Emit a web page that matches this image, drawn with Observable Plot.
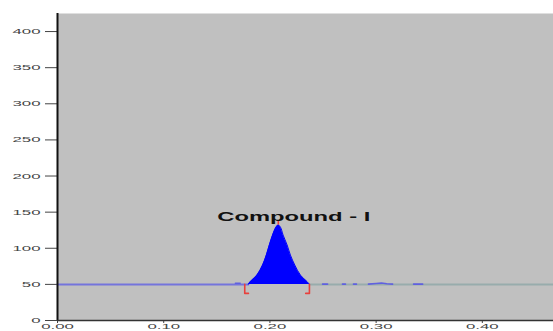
<!DOCTYPE html>
<html>
<head>
<meta charset="utf-8">
<script src="https://cdn.jsdelivr.net/npm/d3@7"></script>
<script src="https://cdn.jsdelivr.net/npm/@observablehq/plot@0.6"></script>
<style>
  html, body { margin: 0; padding: 0; background: #fff; }
  #chart { width: 553px; height: 331px; }
</style>
</head>
<body>
<div id="chart"></div>
<script>
// ---- data ----
const yTicks = [0, 50, 100, 150, 200, 250, 300, 350, 400];
const xTicks = [0.0, 0.1, 0.2, 0.3, 0.4];
const baselineLevel = 50;
const timeRange = [0, 0.467];
const signalRange = [0, 425];

// peak (retention time, signal)
const peakTime   = [0.1797, 0.1816, 0.1879, 0.1932, 0.1967, 0.1995, 0.2026, 0.2050, 0.2079, 0.2100, 0.2124, 0.2162, 0.2193, 0.2234, 0.2287, 0.2351, 0.2372];
const peakSignal = [50, 53.6, 62.9, 76.8, 90.6, 104.5, 118.3, 127, 132.2, 129, 118.3, 104.5, 90.6, 76.8, 62.9, 53.6, 50];

const peakName = "Compound - I";
const peakStart = 0.1763;
const peakEnd = 0.2372;
const apexTime = 0.2079;
const apexSignal = 132.2;
const bracketLow = 37.5;

// baseline pieces
const leadTime = [0, 0.1797];
const trailTime = [0.2372, 0.467];

// small noise blips on the baseline
const noiseSeg    = [0, 0, 1, 1, 2, 2, 3, 3, 4, 4, 4, 4, 4, 5, 5];
const noiseTime   = [0.1675, 0.1720, 0.2496, 0.2543, 0.2683, 0.2711, 0.2787, 0.2815, 0.2928, 0.3000, 0.3050, 0.3100, 0.3155, 0.3353, 0.3438];
const noiseSignal = [51.5, 51.5, 50.3, 50.3, 50.3, 50.3, 50.3, 50.3, 50.3, 51.2, 51.8, 50.8, 50.3, 50.3, 50.3];

// ---- build tables ----
const peak = peakTime.map((t, i) => ({t, v: peakSignal[i]}));
const noise = noiseTime.map((t, i) => ({t, v: noiseSignal[i], s: noiseSeg[i]}));
const foot = 0.0035;
const brackets = [
  {t: peakStart + foot, v: bracketLow, s: "L"}, {t: peakStart, v: bracketLow, s: "L"}, {t: peakStart, v: baselineLevel, s: "L"},
  {t: peakEnd - foot, v: bracketLow, s: "R"}, {t: peakEnd, v: bracketLow, s: "R"}, {t: peakEnd, v: baselineLevel, s: "R"}
];

const chart = Plot.plot({
  width: 553,
  height: 331,
  marginLeft: 57,
  marginRight: 0,
  marginTop: 13,
  marginBottom: 11,
  style: {fontFamily: "'Liberation Sans', Arial, sans-serif", fontSize: "8px", color: "#444", background: "#fff"},
  x: {domain: timeRange, ticks: xTicks, tickFormat: d3.format(".2f"), tickSize: 3, tickPadding: 0, label: null},
  y: {domain: signalRange, ticks: yTicks, tickSize: 12, tickPadding: 5, label: null},
  marks: [
    Plot.frame({fill: "#c0c0c0", stroke: null}),
    Plot.lineY(leadTime, {x: d => d, y: () => baselineLevel, stroke: "#7474dc", strokeWidth: 2}),
    Plot.lineY(trailTime, {x: d => d, y: () => baselineLevel, stroke: "#98acac", strokeWidth: 2}),
    Plot.line(noise, {x: "t", y: "v", z: "s", stroke: "#6060e0", strokeWidth: 1.6}),
    Plot.areaY(peak, {x: "t", y1: baselineLevel, y2: "v", fill: "#0000ff", curve: "catmull-rom"}),
    Plot.line(peak, {x: "t", y: "v", stroke: "#0000ff", strokeWidth: 1, curve: "catmull-rom"}),
    Plot.line(brackets, {x: "t", y: "v", z: "s", stroke: "#e8403c", strokeWidth: 1.6}),
    Plot.ruleX([apexTime], {x: d => d, y1: apexSignal, y2: apexSignal + 5, stroke: "#e8403c", strokeWidth: 1.6}),
    Plot.ruleX([0], {stroke: "#111", strokeWidth: 2}),
    Plot.ruleY([0], {stroke: "#333", strokeWidth: 1.5}),
    Plot.text([peakName], {x: () => apexTime, y: () => apexSignal, text: d => d, textAnchor: "start", dx: -61, dy: -7.5,
      fontSize: 12, fontWeight: "bold", fill: "#111"})
  ]
});
document.getElementById("chart").appendChild(chart);

// horizontally stretch text glyphs like the reference (scale about each text's anchor)
function stretch(el, s) {
  const x = +el.getAttribute("x") || 0;
  const tr = el.getAttribute("transform") || "";
  el.setAttribute("transform", `${tr} translate(${x},0) scale(${s},1) translate(${-x},0)`);
}
chart.querySelectorAll("text").forEach(el => {
  if (el.textContent === peakName) stretch(el, 1.98);
  else stretch(el, 2.1);
});
</script>
</body>
</html>
